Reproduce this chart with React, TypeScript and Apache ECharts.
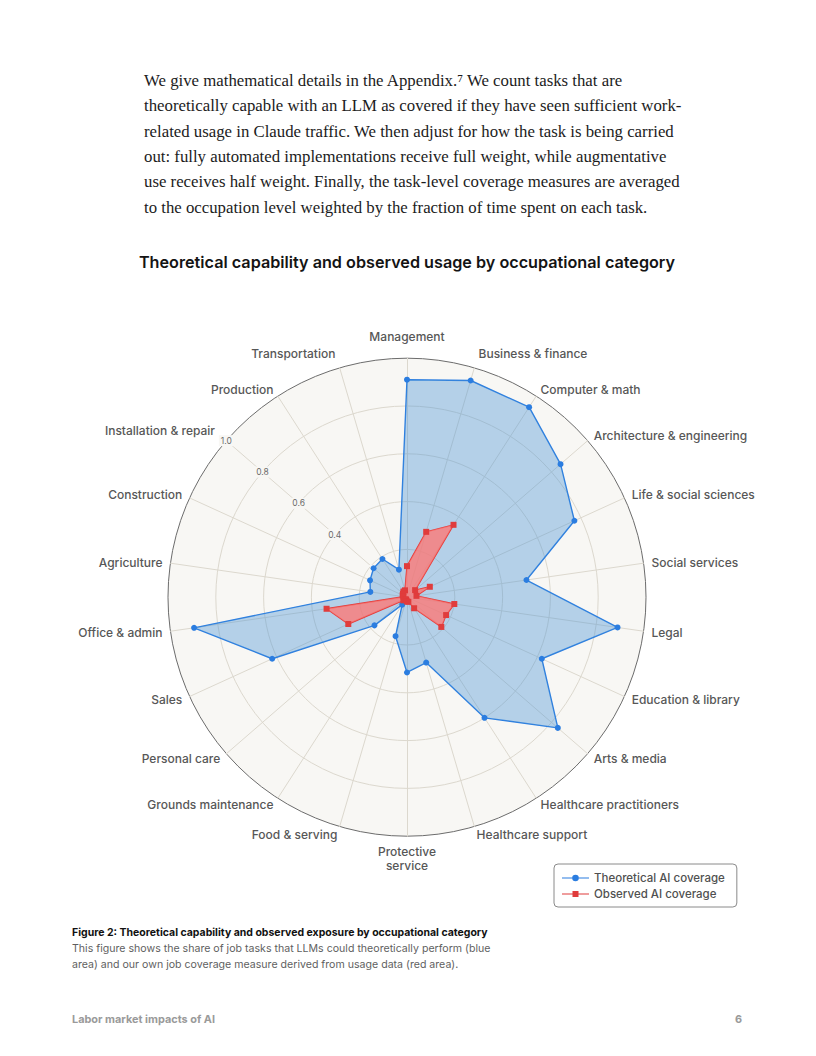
import React, { useEffect, useRef } from 'react';
import * as echarts from 'echarts';

// ---------- data (clockwise from the top) ----------
const categories = [
  'Management',
  'Business & finance',
  'Computer & math',
  'Architecture & engineering',
  'Life & social sciences',
  'Social services',
  'Legal',
  'Education & library',
  'Arts & media',
  'Healthcare practitioners',
  'Healthcare support',
  'Protective\nservice',
  'Food & serving',
  'Grounds maintenance',
  'Personal care',
  'Sales',
  'Office & admin',
  'Agriculture',
  'Construction',
  'Installation & repair',
  'Production',
  'Transportation',
];

const theoretical = [
  0.91, 0.945, 0.945, 0.85, 0.77, 0.505, 0.89, 0.62, 0.835, 0.6, 0.285,
  0.315, 0.17, 0.037, 0.18, 0.62, 0.9, 0.155, 0.17, 0.185, 0.19, 0.12,
];

const observed = [
  0.13, 0.285, 0.36, 0.045, 0.105, 0.04, 0.2, 0.18, 0.19, 0.055, 0.02,
  0.018, 0.012, 0.01, 0.02, 0.27, 0.34, 0.015, 0.02, 0.022, 0.028, 0.03,
];

const radialTicks = [0.4, 0.6, 0.8, 1.0];
const tickAxisCategory = 'Installation & repair';

const seriesNames = ['Theoretical AI coverage', 'Observed AI coverage'];

const bodyLines = [
  'We give mathematical details in the Appendix.\u2077 We count tasks that are',
  'theoretically capable with an LLM as covered if they have seen sufficient work-',
  'related usage in Claude traffic. We then adjust for how the task is being carried',
  'out: fully automated implementations receive full weight, while augmentative',
  'use receives half weight. Finally, the task-level coverage measures are averaged',
  'to the occupation level weighted by the fraction of time spent on each task.',
];
const chartTitle = 'Theoretical capability and observed usage by occupational category';
const captionTitle = 'Figure 2: Theoretical capability and observed exposure by occupational category';
const captionLines = [
  'This figure shows the share of job tasks that LLMs could theoretically perform (blue',
  'area) and our own job coverage measure derived from usage data (red area).',
];
const footerLeft = 'Labor market impacts of AI';
const footerRight = '6';

// ---------- styling ----------
const BLUE = '#2b7de0';
const RED = '#e03c3c';
const SANS = 'Inter, "Noto Sans", sans-serif';
const SERIF = '"Liberation Serif", "DejaVu Serif", serif';

function fitSize(text: string, weight: string, family: string, target: number, fallback: number) {
  try {
    const c = document.createElement('canvas').getContext('2d');
    if (!c) return fallback;
    c.font = `${weight} 100px ${family}`;
    const w = c.measureText(text).width;
    if (!w) return fallback;
    return Math.round((100 * target / w) * 10) / 10;
  } catch (e) {
    return fallback;
  }
}

export default function App() {
  const ref = useRef<HTMLDivElement>(null);

  useEffect(() => {
    const el = ref.current;
    if (!el) return;
    const chart = echarts.init(el, null, { renderer: 'svg', width: 816, height: 1056 });

    const bodySize = fitSize(bodyLines[4], '400', SERIF, 535, 16.3);
    const titleSize = fitSize(chartTitle, '600', SANS, 535, 16);
    const catSize = fitSize('Architecture & engineering', '500', SANS, 153, 12.5);
    const capSize = fitSize(captionTitle, '700', SANS, 414, 10.5);
    const capLineSize = fitSize(captionLines[0], '400', SANS, 418, 10.5);
    const footSize = fitSize(footerLeft, '700', SANS, 143, 10);
    const legendSize = fitSize(seriesNames[0], '500', SANS, 131, 12.5);

    // ECharts radar runs counter-clockwise: keep the first, reverse the rest
    const order = [0, ...categories.map((_, i) => categories.length - 1 - i).slice(0, categories.length - 1)];
    const farNames = new Set(['Management', 'Business & finance', 'Transportation']);

    const indicator = order.map((i) => {
      const name = categories[i];
      const ind: any = { name, max: 1, min: 0, nameGap: farNames.has(name) ? 15 : 8 };
      if (name === tickAxisCategory) {
        ind.axisLabel = {
          show: true,
          margin: 0,
          align: 'center',
          verticalAlign: 'middle',
          fontSize: 8.5,
          fontFamily: SANS,
          color: '#6b6b6b',
          backgroundColor: '#f8f7f4',
          padding: [1, 2],
          formatter: (v: number) => (radialTicks.some((t) => Math.abs(t - v) < 1e-6) ? v.toFixed(1) : ''),
        };
      }
      return ind;
    });

    const graphic: any[] = [];
    bodyLines.forEach((t, i) => {
      graphic.push({
        type: 'text',
        x: 144,
        y: 80.5 + i * 25.3,
        style: {
          text: t,
          fontFamily: SERIF,
          fontSize: bodySize,
          fill: '#1c1c1c',
          align: 'left',
          verticalAlign: 'middle',
        },
      });
    });
    graphic.push({
      type: 'text',
      x: 407,
      y: 261.5,
      style: {
        text: chartTitle,
        fontFamily: SANS,
        fontWeight: 600,
        fontSize: titleSize,
        fill: '#141414',
        align: 'center',
        verticalAlign: 'middle',
      },
    });
    graphic.push({
      type: 'text',
      x: 72,
      y: 932.5,
      style: {
        text: captionTitle,
        fontFamily: SANS,
        fontWeight: 700,
        fontSize: capSize,
        fill: '#111111',
        align: 'left',
        verticalAlign: 'middle',
      },
    });
    captionLines.forEach((t, i) => {
      graphic.push({
        type: 'text',
        x: 72,
        y: 948.9 + i * 15.2,
        style: {
          text: t,
          fontFamily: SANS,
          fontSize: capLineSize,
          fill: '#5f5f5f',
          align: 'left',
          verticalAlign: 'middle',
        },
      });
    });
    graphic.push({
      type: 'text',
      x: 72,
      y: 1019,
      style: {
        text: footerLeft,
        fontFamily: SANS,
        fontWeight: 700,
        fontSize: footSize,
        fill: '#9a9a9a',
        align: 'left',
        verticalAlign: 'middle',
      },
    });
    graphic.push({
      type: 'text',
      x: 742,
      y: 1019,
      style: {
        text: footerRight,
        fontFamily: SANS,
        fontWeight: 700,
        fontSize: footSize,
        fill: '#9a9a9a',
        align: 'right',
        verticalAlign: 'middle',
      },
    });

    const blueIcon = 'path://M0,2.9 H27 V4.1 H0 Z M10.2,3.5 a3.3,3.3 0 1,1 6.6,0 a3.3,3.3 0 1,1 -6.6,0 Z';
    const redIcon = 'path://M0,2.9 H27 V4.1 H0 Z M10.5,0.5 H16.5 V6.5 H10.5 Z';

    const option: any = {
      animation: false,
      backgroundColor: '#ffffff',
      textStyle: { fontFamily: SANS },
      legend: {
        orient: 'vertical',
        left: 554,
        top: 864,
        padding: [7, 12, 6, 8],
        itemGap: 2,
        itemWidth: 27,
        itemHeight: 7,
        borderColor: '#8a8a8a',
        borderWidth: 1,
        borderRadius: 4,
        backgroundColor: '#ffffff',
        selectedMode: false,
        textStyle: { fontSize: legendSize, fontFamily: SANS, fontWeight: 500, color: '#505050', lineHeight: 14 },
        data: [
          { name: seriesNames[0], icon: blueIcon, itemStyle: { color: BLUE, borderWidth: 0 } },
          { name: seriesNames[1], icon: redIcon, itemStyle: { color: RED, borderWidth: 0 } },
        ],
      },
      radar: {
        center: [407, 597.2],
        radius: 239,
        startAngle: 90,
        shape: 'circle',
        splitNumber: 5,
        indicator,
        axisName: {
          color: '#575757',
          fontSize: catSize,
          fontFamily: SANS,
          fontWeight: 500,
          lineHeight: 14,
        },
        axisLine: { lineStyle: { color: '#dcd8ce', width: 1 } },
        splitLine: {
          lineStyle: {
            color: ['#dcd8ce', '#dcd8ce', '#dcd8ce', '#dcd8ce', '#dcd8ce', '#6c6c6c'],
            width: 1,
          },
        },
        splitArea: { show: true, areaStyle: { color: ['#f8f7f4'] } },
        axisLabel: { show: false },
        axisTick: { show: false },
      },
      series: [
        {
          type: 'radar',
          name: seriesNames[0],
          z: 2,
          symbol: 'circle',
          symbolSize: 6,
          itemStyle: { color: BLUE },
          lineStyle: { color: BLUE, width: 1.4 },
          areaStyle: { color: 'rgba(78,150,214,0.4)', opacity: 1 },
          data: [{ name: seriesNames[0], value: order.map((i) => theoretical[i]) }],
        },
        {
          type: 'radar',
          name: seriesNames[1],
          z: 3,
          symbol: 'rect',
          symbolSize: 6,
          itemStyle: { color: RED },
          lineStyle: { color: RED, width: 1.4 },
          areaStyle: { color: 'rgba(255,118,114,0.77)', opacity: 1 },
          data: [{ name: seriesNames[1], value: order.map((i) => observed[i]) }],
        },
      ],
      graphic,
    };

    chart.setOption(option);
    return () => chart.dispose();
  }, []);

  return (
    <div
      ref={ref}
      style={{ position: 'absolute', left: 0, top: 0, width: 816, height: 1056, background: '#ffffff' }}
    />
  );
}
